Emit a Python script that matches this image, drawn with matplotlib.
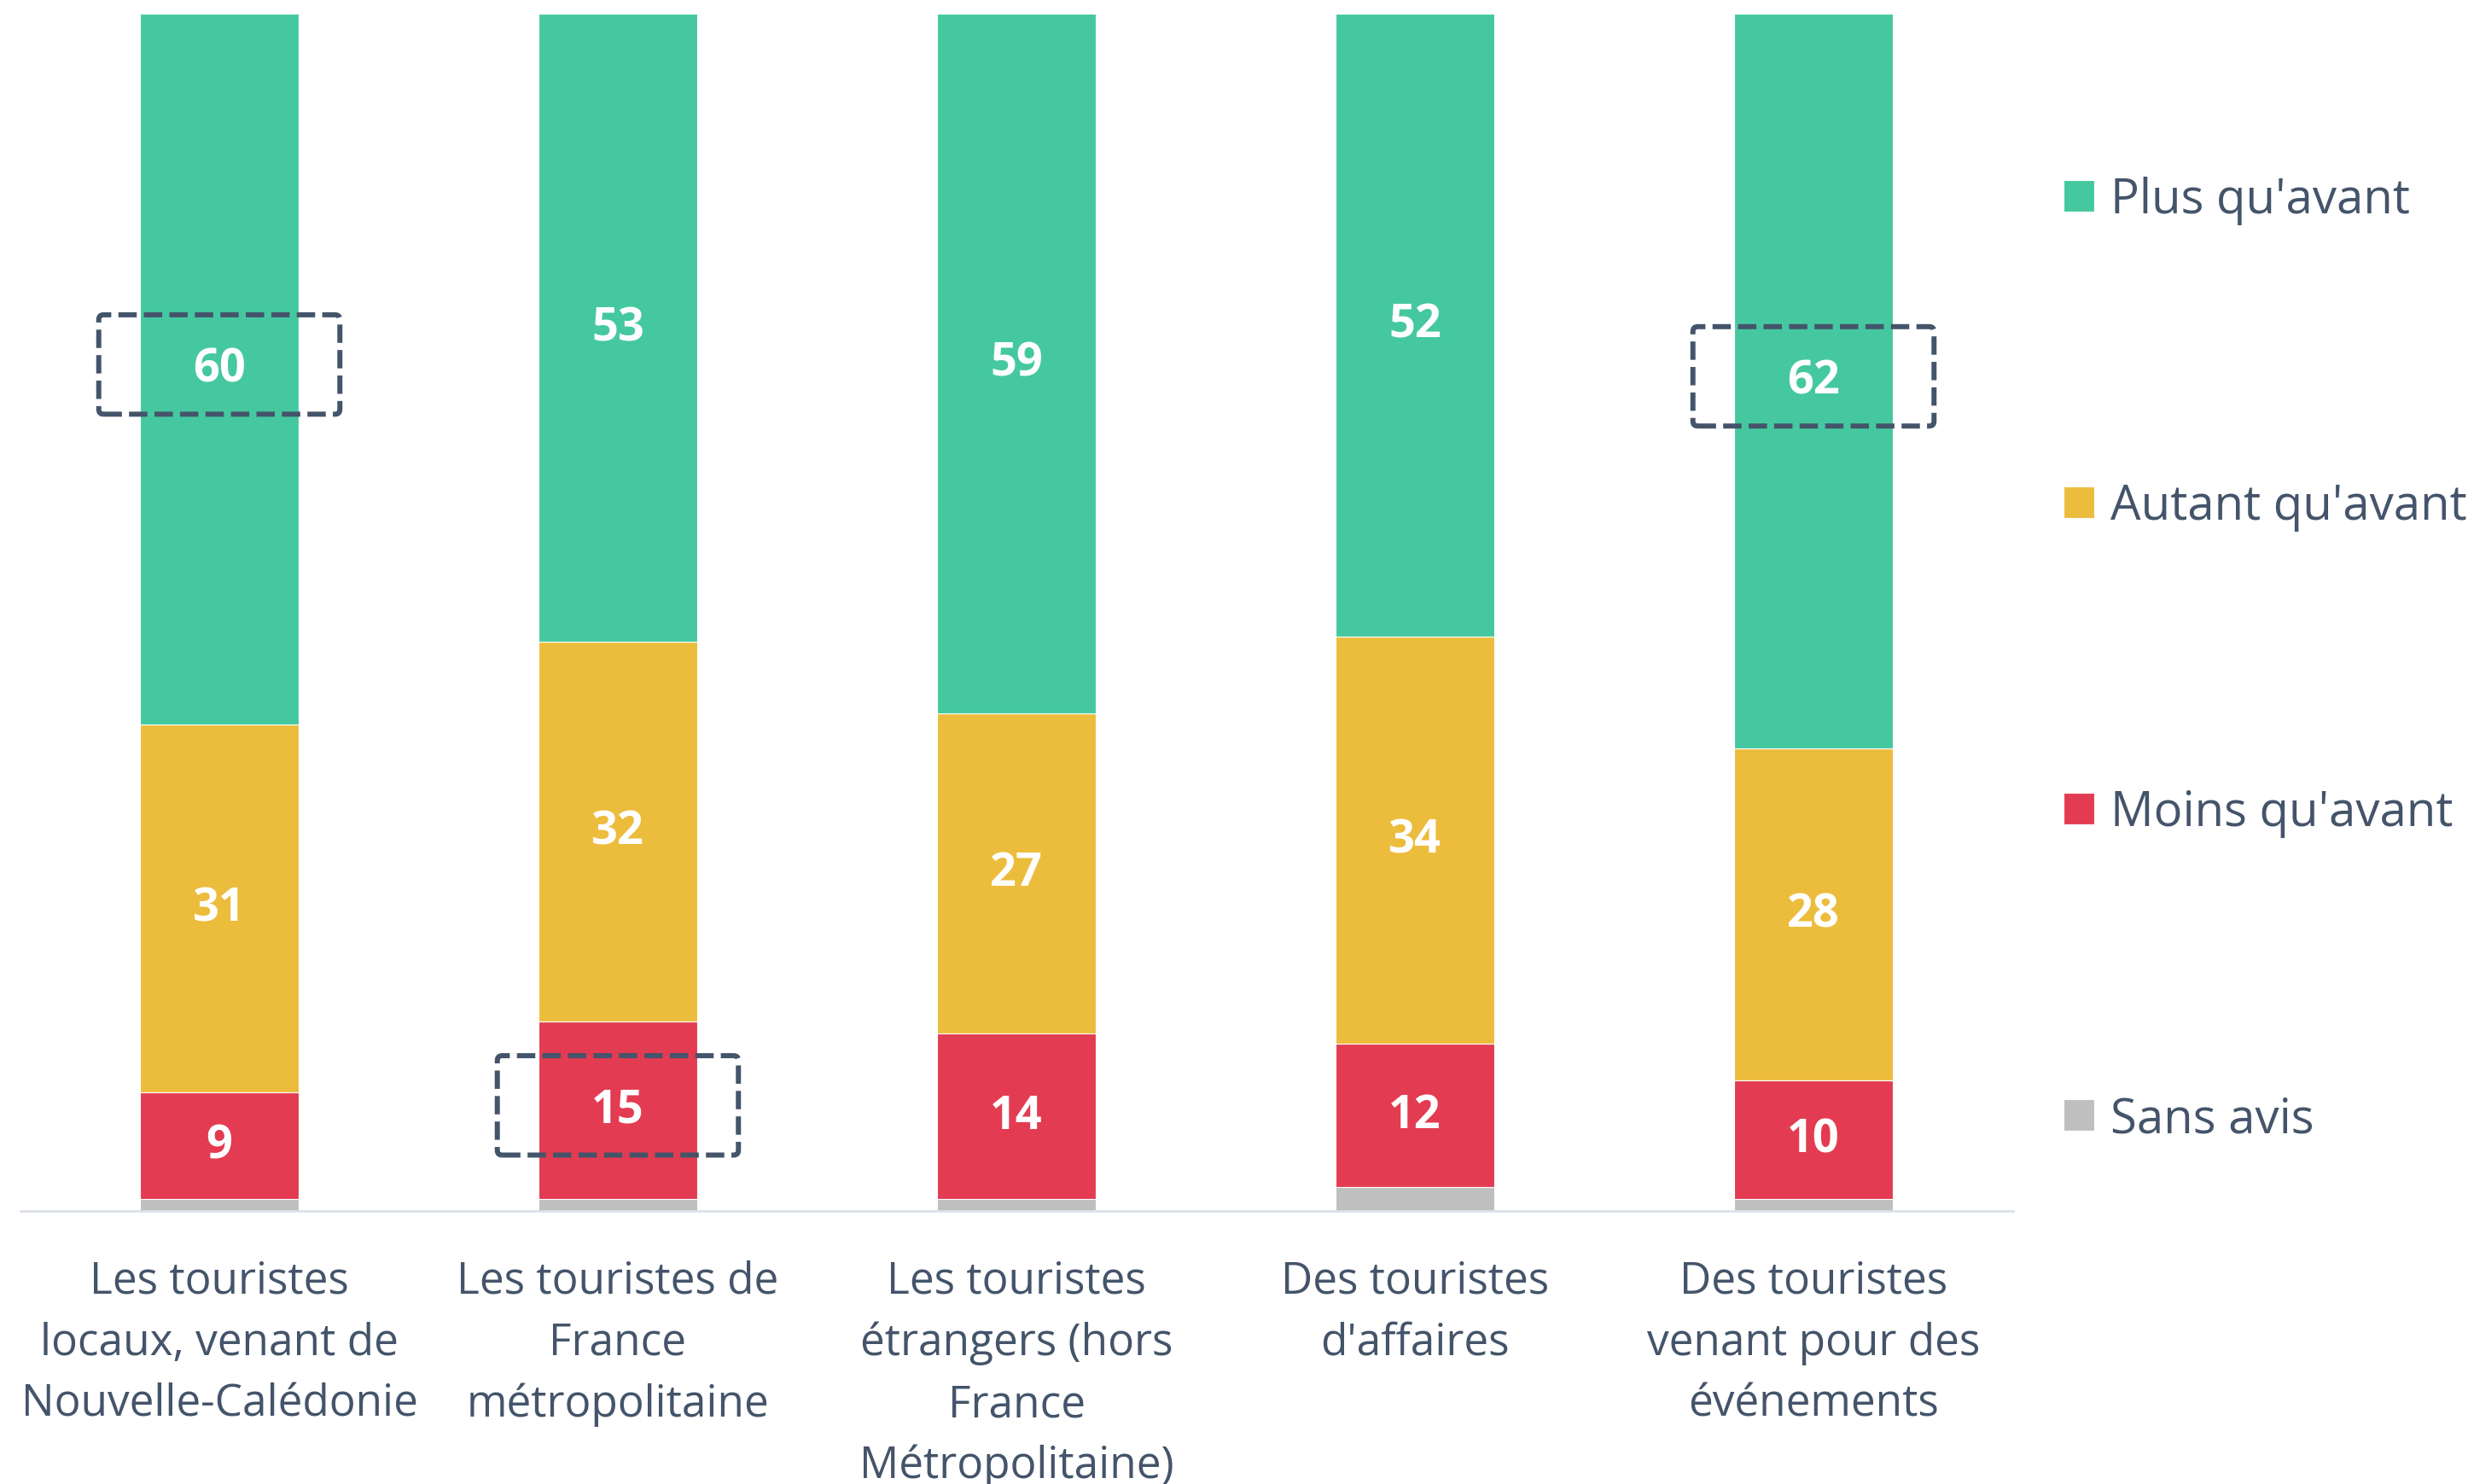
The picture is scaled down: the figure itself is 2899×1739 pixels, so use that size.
import numpy as np
import matplotlib.pyplot as plt
from matplotlib.patches import FancyBboxPatch

plt.rcParams['font.family'] = ['Open Sans', 'DejaVu Sans']

# categories and survey answers (%)
categories = ["Les touristes\nlocaux, venant de\nNouvelle-Calédonie",
              "Les touristes de\nFrance\nmétropolitaine",
              "Les touristes\nétrangers (hors\nFrance\nMétropolitaine)",
              "Des touristes\nd'affaires",
              "Des touristes\nvenant pour des\névénements"]
series_names = ["Sans avis", "Moins qu'avant", "Autant qu'avant", "Plus qu'avant"]
sans_avis = [1, 1, 1, 2, 1]
moins = [9, 15, 14, 12, 10]
autant = [31, 32, 27, 34, 28]
plus = [60, 53, 59, 52, 62]
series_colors = ["#BFBFBF", "#E33C52", "#ECBC3C", "#45C8A0"]
# (category index, series name) of the boxed values
highlighted = [(0, "Plus qu'avant"), (1, "Moins qu'avant"), (4, "Plus qu'avant")]

text_color = "#44546A"

values = np.array([sans_avis, moins, autant, plus], dtype=float)
shares = values / values.sum(axis=0) * 100  # 100% stacked

W, H = 2899, 1740
fig = plt.figure(figsize=(W / 100, H / 100), dpi=100)
ax = fig.add_axes([23.5 / W, 1 - 1420 / H, (2358.5 - 23.5) / W, (1420 - 17) / H])

x = np.arange(len(categories))
bar_w = 0.40
bottom = np.zeros(len(categories))
centers = {}
handles = []
for k, name in enumerate(series_names):
    b = ax.bar(x, shares[k], bar_w, bottom=bottom, color=series_colors[k],
               edgecolor='white', linewidth=0.8, label=name, zorder=2)
    handles.append(b)
    mid = bottom + shares[k] / 2
    centers[name] = mid
    if name != "Sans avis":
        for i in range(len(categories)):
            ax.text(x[i], mid[i], "%d" % values[k, i], ha='center', va='center',
                    color='white', fontsize=39, fontweight='bold', zorder=3)
    bottom = bottom + shares[k]

# dashed highlight boxes around some labels
box_w, box_h = 0.605, 8.3
asp = (2335 / 5) / (1403 / 100)  # px per x unit / px per y unit
for i, name in highlighted:
    cy = centers[name][i] + 0.4
    box = FancyBboxPatch((x[i] - box_w / 2, cy - box_h / 2), box_w, box_h,
                         boxstyle="round,pad=0,rounding_size=0.012",
                         mutation_aspect=asp,
                         fill=False, edgecolor="#44546A", linewidth=4.3,
                         linestyle=(0, (3.6, 1.4)), zorder=4, clip_on=False)
    ax.add_patch(box)

ax.set_xlim(-0.5, len(categories) - 0.5)
ax.set_ylim(0, 100)
ax.set_xticks(x)
ax.set_xticklabels(categories, fontsize=37, color=text_color, linespacing=1.53)
ax.tick_params(axis='x', length=0, pad=41)
ax.set_yticks([])
for s in ['top', 'left', 'right']:
    ax.spines[s].set_visible(False)
ax.spines['bottom'].set_color("#DCE1E8")
ax.spines['bottom'].set_linewidth(2)

leg = fig.legend(handles[::-1], series_names[::-1], loc='upper left',
                 bbox_to_anchor=(2418 / W, 1 - 207 / H), frameon=False,
                 fontsize=40.5, labelcolor=text_color, handlelength=0.64,
                 handleheight=0.64, handletextpad=0.33, labelspacing=5.37,
                 borderpad=0, borderaxespad=0)

fig.savefig("out.png", dpi=100)
